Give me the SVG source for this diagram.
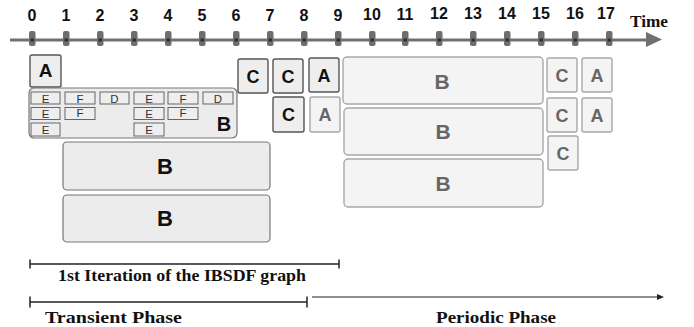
<svg xmlns="http://www.w3.org/2000/svg" width="694" height="327" viewBox="0 0 694 327">
<style>
.num{font-family:"Liberation Sans",Arial,sans-serif;font-weight:bold;font-size:16px;fill:#111;text-anchor:middle}
.ser{font-family:"Liberation Serif","Times New Roman",serif;font-weight:bold;fill:#111}
.dk{fill:#eeeeee;stroke:#555;stroke-width:1.4}
.lt{fill:#f4f4f4;stroke:#a8a8a8;stroke-width:1.4}
.sm{fill:#eeeeee;stroke:#666;stroke-width:1}
.bx{fill:#ececec;stroke:#777;stroke-width:1.2}
.L{font-family:"Liberation Sans",Arial,sans-serif;font-weight:bold;text-anchor:middle;fill:#111}
.g{fill:#666}
.s{font-family:"Liberation Sans",Arial,sans-serif;font-size:11.5px;text-anchor:middle;fill:#333}
.tick{fill:#6e6e6e}
.bar{stroke:#222;stroke-width:1.5;fill:none}
</style>
<defs>
<g id="tk"><rect class="tick" x="-3" y="31" width="6.5" height="15" rx="2"/><rect x="-1.5" y="38.5" width="3.5" height="3" fill="#2e2e2e"/></g>
</defs>
<g id="axis">
<line x1="10" y1="40" x2="648" y2="40" stroke="#707070" stroke-width="3"/>
<polygon points="646,32 662,39.5 646,47" fill="#707070"/>
<use href="#tk" x="32"/>
<use href="#tk" x="66"/>
<use href="#tk" x="100"/>
<use href="#tk" x="134"/>
<use href="#tk" x="168"/>
<use href="#tk" x="202"/>
<use href="#tk" x="236"/>
<use href="#tk" x="270"/>
<use href="#tk" x="304"/>
<use href="#tk" x="338"/>
<use href="#tk" x="372"/>
<use href="#tk" x="405"/>
<use href="#tk" x="439"/>
<use href="#tk" x="473"/>
<use href="#tk" x="507"/>
<use href="#tk" x="541"/>
<use href="#tk" x="575"/>
<use href="#tk" x="609"/>
<text class="num" x="32" y="20.5">0</text>
<text class="num" x="66" y="20.5">1</text>
<text class="num" x="100" y="20.5">2</text>
<text class="num" x="134" y="20.5">3</text>
<text class="num" x="168" y="20.5">4</text>
<text class="num" x="202" y="20.5">5</text>
<text class="num" x="236" y="20.5">6</text>
<text class="num" x="270" y="20.5">7</text>
<text class="num" x="304" y="20.5">8</text>
<text class="num" x="338" y="20.5">9</text>
<text class="num" x="372" y="19.5">10</text>
<text class="num" x="405" y="19.5">11</text>
<text class="num" x="439" y="18.5">12</text>
<text class="num" x="473" y="18.5">13</text>
<text class="num" x="507" y="18.5">14</text>
<text class="num" x="541" y="18.5">15</text>
<text class="num" x="575" y="18.5">16</text>
<text class="num" x="606" y="18.5">17</text>
<text class="ser" x="630" y="27" font-size="16" textLength="38" lengthAdjust="spacingAndGlyphs">Time</text>
</g>
<g id="A0">
<rect class="dk" x="30" y="55" width="31" height="32" rx="2"/>
<text class="L" x="45.5" y="77" font-size="19">A</text>
</g>
<g id="B0">
<rect class="bx" x="29" y="88" width="208" height="50" rx="5"/>
<rect class="sm" x="31" y="92" width="29" height="12"/><text class="s" x="45.5" y="102.5">E</text>
<rect class="sm" x="65" y="92" width="30" height="12"/><text class="s" x="80" y="102.5">F</text>
<rect class="sm" x="100" y="92" width="29" height="12"/><text class="s" x="114.5" y="102.5">D</text>
<rect class="sm" x="134" y="92" width="30" height="12"/><text class="s" x="149" y="102.5">E</text>
<rect class="sm" x="168" y="92" width="30" height="12"/><text class="s" x="183" y="102.5">F</text>
<rect class="sm" x="203" y="92" width="30" height="12"/><text class="s" x="218" y="102.5">D</text>
<rect class="sm" x="31" y="107.5" width="29" height="12"/><text class="s" x="45.5" y="118">E</text>
<rect class="sm" x="65" y="107.5" width="30" height="12"/><text class="s" x="80" y="117">F</text>
<rect class="sm" x="134" y="107.5" width="30" height="12"/><text class="s" x="149" y="118">E</text>
<rect class="sm" x="168" y="107.5" width="30" height="12"/><text class="s" x="183" y="117">F</text>
<rect class="sm" x="31" y="123" width="29" height="13"/><text class="s" x="45.5" y="134">E</text>
<rect class="sm" x="134" y="123" width="30" height="13"/><text class="s" x="149" y="134">E</text>
<text class="L" x="224" y="131" font-size="20">B</text>
</g>
<g id="B1">
<rect class="bx" x="63" y="142" width="207" height="48" rx="4"/>
<text class="L" x="165" y="174" font-size="22">B</text>
</g>
<g id="B2">
<rect class="bx" x="63" y="195" width="207" height="47" rx="4"/>
<text class="L" x="165" y="226" font-size="22">B</text>
</g>
<g id="C6">
<rect class="dk" x="238" y="59" width="30" height="34" rx="2"/>
<text class="L" x="253" y="82.5" font-size="18">C</text>
</g>
<g id="C7a">
<rect class="dk" x="273" y="59" width="30" height="34" rx="2"/>
<text class="L" x="288" y="82.5" font-size="18">C</text>
</g>
<g id="A8a">
<rect class="dk" x="309" y="58" width="30" height="34" rx="2"/>
<text class="L" x="324" y="81.5" font-size="18">A</text>
</g>
<g id="C7b">
<rect class="dk" x="273" y="97" width="31" height="35" rx="2"/>
<text class="L" x="288.5" y="121" font-size="18">C</text>
</g>
<g id="A8b">
<rect class="lt" x="310" y="97" width="30" height="35" rx="2"/>
<text class="L g" x="325" y="121" font-size="18">A</text>
</g>
<g id="B3">
<rect class="lt" x="343" y="57" width="200" height="47" rx="4"/>
<text class="L g" x="442" y="89" font-size="21">B</text>
</g>
<g id="B4">
<rect class="lt" x="344" y="108" width="199" height="47" rx="4"/>
<text class="L g" x="443" y="139" font-size="21">B</text>
</g>
<g id="B5">
<rect class="lt" x="344" y="159" width="199" height="48" rx="4"/>
<text class="L g" x="443" y="191" font-size="21">B</text>
</g>
<g id="C15a">
<rect class="lt" x="547" y="58" width="30" height="34" rx="2"/>
<text class="L g" x="562" y="81.5" font-size="18">C</text>
</g>
<g id="A16a">
<rect class="lt" x="582" y="58" width="30" height="34" rx="2"/>
<text class="L g" x="597" y="81.5" font-size="18">A</text>
</g>
<g id="C15b">
<rect class="lt" x="547" y="98" width="30" height="34" rx="2"/>
<text class="L g" x="562" y="121.5" font-size="18">C</text>
</g>
<g id="A16b">
<rect class="lt" x="582" y="98" width="30" height="34" rx="2"/>
<text class="L g" x="597" y="121.5" font-size="18">A</text>
</g>
<g id="C15c">
<rect class="lt" x="548" y="136" width="30" height="34" rx="2"/>
<text class="L g" x="563" y="159.5" font-size="18">C</text>
</g>
<g id="connectors">
<line class="bar" x1="30" y1="264" x2="339" y2="264"/>
<line class="bar" x1="30" y1="259.5" x2="30" y2="268.5"/>
<line class="bar" x1="339" y1="259.5" x2="339" y2="268.5"/>
<line class="bar" x1="30" y1="302" x2="307" y2="302"/>
<line class="bar" x1="30" y1="296.5" x2="30" y2="307.5"/>
<line class="bar" x1="307" y1="296.5" x2="307" y2="307.5"/>
<line x1="312" y1="297" x2="659" y2="297" stroke="#222" stroke-width="1.2"/>
<polygon points="657,294 664,297 657,300" fill="#222"/>
</g>
<g id="labels">
<text class="ser" x="58" y="281" font-size="16.5" textLength="248" lengthAdjust="spacingAndGlyphs">1st Iteration of the IBSDF graph</text>
<text class="ser" x="45" y="323" font-size="16.5" textLength="137" lengthAdjust="spacingAndGlyphs">Transient Phase</text>
<text class="ser" x="436" y="323" font-size="16.5" textLength="120" lengthAdjust="spacingAndGlyphs">Periodic Phase</text>
</g>
</svg>
